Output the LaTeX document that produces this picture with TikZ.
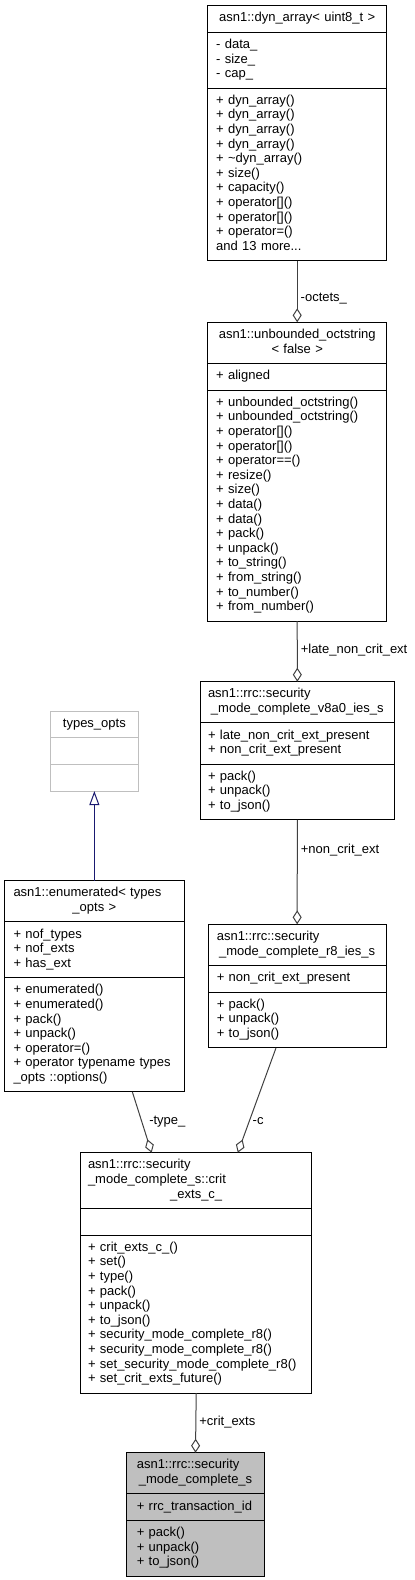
\documentclass[tikz,border=0pt]{standalone}
\usepackage{fontspec}
\setmainfont{Liberation Sans}
\usetikzlibrary{shapes.multipart,arrows.meta,calc}
\definecolor{edgegrey}{HTML}{404040}
\definecolor{classgrey}{HTML}{BFBFBF}
\definecolor{inhblue}{HTML}{191970}
\newcommand{\lastc}[1]{\strut\hfill#1\hfill\null}
\tikzset{
  cls/.style={rectangle split, rectangle split parts=3, draw=black, line width=1pt,
    anchor=north, align=left, inner xsep=8.5pt, inner ysep=5.5pt, outer sep=0pt,
    font=\fontsize{13}{14.6}\selectfont},
  aggr/.style={draw=edgegrey, line width=1pt, -{Diamond[open,length=14pt,width=9pt]}},
  inherit/.style={draw=inhblue, line width=1pt, -{Triangle[open,length=14pt,width=10pt]}},
  elabel/.style={right, inner sep=3pt, text=black, font=\fontsize{13}{14.6}\selectfont}
}
\begin{document}
\begin{tikzpicture}[x=1pt,y=-1pt]
\useasboundingbox (0,0) rectangle (415,1580);
% classes
\node[cls, text width=162pt] (dyn) at (297.2,5.7)
  {\lastc{asn1::dyn\_array< uint8\_t >}
   \nodepart{two}\strut - data\_\\ - size\_\\ - cap\_\strut
   \nodepart{three}\strut + dyn\_array()\\ + dyn\_array()\\ + dyn\_array()\\ + dyn\_array()\\
   + \textasciitilde dyn\_array()\\ + size()\\ + capacity()\\ + operator[]()\\ + operator[]()\\
   + operator=()\\ and 13 more...\strut};
\node[cls, text width=162pt] (oct) at (297.2,322.3)
  {\lastc{asn1::unbounded\_octstring}\\ \lastc{< false >}
   \nodepart{two}\strut + aligned\strut
   \nodepart{three}\strut + unbounded\_octstring()\\ + unbounded\_octstring()\\ + operator[]()\\
   + operator[]()\\ + operator==()\\ + resize()\\ + size()\\ + data()\\ + data()\\ + pack()\\
   + unpack()\\ + to\_string()\\ + from\_string()\\ + to\_number()\\ + from\_number()\strut};
\node[cls, inner xsep=8pt, text width=178.7pt] (veight) at (297.35,681.7)
  {\strut asn1::rrc::security\\ \lastc{\_mode\_complete\_v8a0\_ies\_s}
   \nodepart{two}\strut + late\_non\_crit\_ext\_present\\ + non\_crit\_ext\_present\strut
   \nodepart{three}\strut + pack()\\ + unpack()\\ + to\_json()\strut};
\node[cls, draw=classgrey, text width=70.3pt] (types) at (94.35,711.3)
  {\lastc{types\_opts}
   \nodepart{two}\strut
   \nodepart{three}\strut};
\node[cls, inner xsep=8.8pt, text width=161.7pt] (enum) at (94.35,880.7)
  {\strut asn1::enumerated< types\\ \lastc{\_opts >}
   \nodepart{two}\strut + nof\_types\\ + nof\_exts\\ + has\_ext\strut
   \nodepart{three}\strut + enumerated()\\ + enumerated()\\ + pack()\\ + unpack()\\ + operator=()\\
   + operator typename types\\ \_opts ::options()\strut};
\node[cls, text width=160.7pt] (reight) at (297.15,924.3)
  {\strut asn1::rrc::security\\ \lastc{\_mode\_complete\_r8\_ies\_s}
   \nodepart{two}\strut + non\_crit\_ext\_present\strut
   \nodepart{three}\strut + pack()\\ + unpack()\\ + to\_json()\strut};
\node[cls, inner xsep=7.3pt, text width=216.4pt] (crit) at (196.2,1152.7)
  {\strut asn1::rrc::security\\ \_mode\_complete\_s::crit\\ \lastc{\_exts\_c\_}
   \nodepart{two}\strut
   \nodepart{three}\strut + crit\_exts\_c\_()\\ + set()\\ + type()\\ + pack()\\ + unpack()\\
   + to\_json()\\ + security\_mode\_complete\_r8()\\ + security\_mode\_complete\_r8()\\
   + set\_security\_mode\_complete\_r8()\\ + set\_crit\_exts\_future()\strut};
\node[cls, fill=classgrey, inner xsep=10.1pt, text width=117.4pt] (main) at (195.5,1452.7)
  {\strut asn1::rrc::security\\ \lastc{\_mode\_complete\_s}
   \nodepart{two}\strut + rrc\_transaction\_id\strut
   \nodepart{three}\strut + pack()\\ + unpack()\\ + to\_json()\strut};
% relations
\draw[aggr] (dyn.south) -- (oct.north) node[elabel, pos=0.62] (loct) {-octets\_};
\draw[aggr] (oct.south) -- (veight.north) node[elabel, pos=0.47] (llate) {+late\_non\_crit\_ext};
\draw[aggr] (veight.south) -- (reight.north) node[elabel, pos=0.29] (lnon) {+non\_crit\_ext};
\draw[inherit] (enum.north) -- (types.south);
\draw[aggr] ($(enum.south west)!0.712!(enum.south east)$) -- ($(crit.north west)!0.307!(crit.north east)$)
  node[elabel, pos=0.49, xshift=4pt] (ltype) {-type\_};
\draw[aggr] ($(reight.south west)!0.381!(reight.south east)$) -- ($(crit.north west)!0.68!(crit.north east)$)
  node[elabel, pos=0.70] (lc) {-c};
\draw[aggr] (crit.south) -- (main.north) node[elabel, pos=0.49] (lcrit) {+crit\_exts};
\end{tikzpicture}
\end{document}
